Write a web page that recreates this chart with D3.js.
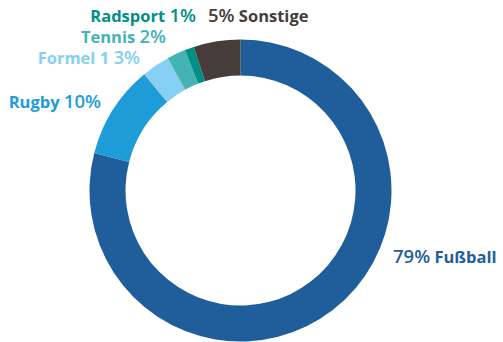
<!DOCTYPE html>
<html><head><meta charset="utf-8">
<script src="https://cdn.jsdelivr.net/npm/d3@7"></script>
<style>
html,body{margin:0;padding:0;background:#fff;}
svg{display:block;}
text{font-family:"Open Sans",Lato,sans-serif;}
</style></head>
<body>
<svg id="chart" width="503" height="342"></svg>
<script>
const categories = ["Fußball","Rugby","Formel 1","Tennis","Radsport","Sonstige"];
const values = [79,10,3,2,1,5];
const colors = ["#1f5e9b","#1e9cd8","#85cff2","#44b3b5","#008f87","#463d3b"];
// label layout: [x, baseline y, anchor, percent first?]
const labelLayout = [
  [393,263,"start",true],
  [101,108,"end",false],
  [140,64,"end",false],
  [166,43,"end",false],
  [196,22,"end",false],
  [208,22,"start",true]
];

const svg = d3.select("#chart");
const cx = 240.5, cy = 190.5, rOuter = 151, rInner = 115;
const pie = d3.pie().sort(null).value(d=>d)(values);
const arc = d3.arc().innerRadius(rInner).outerRadius(rOuter);
const g = svg.append("g").attr("transform",`translate(${cx},${cy})`);
g.selectAll("path").data(pie).join("path")
  .attr("d",arc).attr("fill",(d,i)=>colors[i]);

const lab = svg.selectAll("text.lab").data(categories).join("text")
  .attr("class","lab")
  .attr("x",(d,i)=>labelLayout[i][0])
  .attr("y",(d,i)=>labelLayout[i][1])
  .attr("text-anchor",(d,i)=>labelLayout[i][2])
  .attr("fill",(d,i)=>colors[i]);
lab.each(function(d,i){
  const t = d3.select(this);
  const pct = values[i] + "%";
  const parts = labelLayout[i][3] ? [[pct,true],[" ",false],[d,false]] : [[d,false],[" ",false],[pct,true]];
  parts.forEach(p=>{
    t.append("tspan").text(p[0])
      .attr("font-size", p[1] ? 18.5 : 16.5)
      .attr("font-weight", p[1] ? 600 : 700);
  });
});
</script>
</body></html>
